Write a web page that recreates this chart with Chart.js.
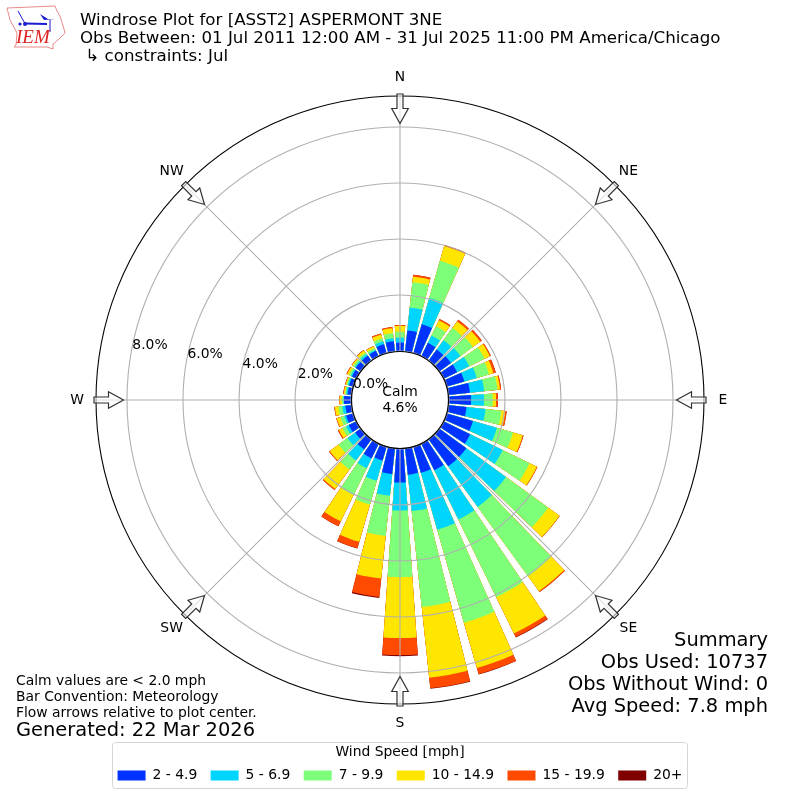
<!DOCTYPE html>
<html>
<head>
<meta charset="utf-8">
<style>html,body{margin:0;padding:0;background:#fff}canvas{display:block}</style>
<script src="https://cdn.jsdelivr.net/npm/chart.js@4"></script>
</head>
<body>
<canvas id="c" width="800" height="800"></canvas>
<script>
const directions = [0,10,20,30,40,50,60,70,80,90,100,110,120,130,140,150,160,170,180,190,200,210,220,230,240,250,260,270,280,290,300,310,320,330,340,350];
const speed2to5 = [.30,.75,1.06,.52,.48,.50,.52,.64,.76,.79,.64,.96,1.04,1.18,1.18,1.04,.96,.93,1.20,.91,.50,.57,.43,.23,.29,.25,.21,.25,.13,.14,.16,.21,.21,.21,.32,.36];
const speed5to7 = [.18,.82,.98,.29,.41,.42,.48,.46,.51,.46,.68,.89,1.29,1.75,1.79,1.96,2.11,1.31,1.00,.78,.75,.39,.49,.34,.11,.07,.11,.02,.05,.05,.05,.04,.07,.04,.11,.11];
const speed7to10 = [.21,.91,1.38,.37,.54,.55,.61,.46,.48,.31,.57,.60,1.07,1.86,3.06,3.09,3.46,3.44,2.38,1.44,.89,1.07,.40,.39,.14,.14,.14,.05,.04,.04,.07,.07,.07,.07,.11,.18];
const speed10to15 = [.21,.20,.55,.24,.29,.32,.21,.16,.09,.12,.14,.36,.29,.50,.66,1.44,1.68,2.54,2.17,1.53,1.38,1.04,.86,.39,.14,.14,.13,.09,.05,.04,.07,.05,.09,.07,.14,.18];
const speed15to20 = [.03,.07,.04,.05,.07,.07,.04,.09,.04,.07,.05,.03,.02,.01,.04,.14,.23,.38,.61,.66,.24,.20,.04,.03,.04,.02,.02,.01,.02,.02,.03,.02,.02,.01,.04,.04];
const speed20plus = [0,0,0,0,0,0,0,0,0,0,0,0,0,0,0,.02,.01,.02,.04,.04,.01,0,0,0,0,0,0,0,0,0,0,0,0,0,0,0];
const seriesValues = [speed2to5, speed5to7, speed7to10, speed10to15, speed15to20, speed20plus];
const seriesLabels = ['2 - 4.9','5 - 6.9','7 - 9.9','10 - 14.9','15 - 19.9','20+'];
const seriesColors = ['#0033ff','#00d5ff','#7dff7a','#ffe600','#ff4a00','#800000'];
const radialTicks = [0,2,4,6,8];
const compassLabels = ['N','NE','E','SE','S','SW','W','NW'];
const titleLines = ['Windrose Plot for [ASST2] ASPERMONT 3NE','Obs Between: 01 Jul 2011 12:00 AM - 31 Jul 2025 11:00 PM America/Chicago',' \u21b3 constraints: Jul'];
const summaryLines = ['Summary','Obs Used: 10737','Obs Without Wind: 0','Avg Speed: 7.8 mph'];
const noteLines = ['Calm values are < 2.0 mph','Bar Convention: Meteorology','Flow arrows relative to plot center.'];
const generatedLine = 'Generated: 22 Mar 2026';
const calmLines = ['Calm','4.6%'];

const rMin = -1.75, rMax = 9.107;
const barDeg = 8, gapDeg = 2, startDeg = -barDeg / 2;
const FONT = '"DejaVu Sans"';
Chart.defaults.font.family = FONT;

const labels = [];
directions.forEach(d => { labels.push(String(d)); labels.push(''); });
const datasets = seriesLabels.map((name, k) => {
  const data = [];
  directions.forEach((d, i) => {
    let total = 0;
    for (let j = 0; j <= k; j++) total += seriesValues[j][i];
    data.push(total);
    data.push(null);
  });
  return {
    label: name, data,
    backgroundColor: seriesColors[k],
    borderWidth: 0,
    angle: ctx => (ctx.index % 2 ? gapDeg : barDeg)
  };
});

function txt(ctx, s, x, y, size, align, color, font) {
  ctx.font = font || (size + 'px ' + FONT);
  ctx.textAlign = align || 'left';
  ctx.textBaseline = 'middle';
  ctx.fillStyle = color || '#000';
  ctx.fillText(s, x, y);
}
function polar(scale, deg, dist) {
  return scale.getPointPosition(0, dist, (deg - startDeg) * Math.PI / 180);
}

const spokes = {
  id: 'spokes',
  afterDatasetsDraw(chart) {
    const r = chart.scales.r, ctx = chart.ctx;
    ctx.save();
    ctx.strokeStyle = '#b0b0b0';
    ctx.lineWidth = 1.1;
    compassLabels.forEach((n, i) => {
      const a = polar(r, i * 45, r.getDistanceFromCenterForValue(0));
      const b = polar(r, i * 45, r.drawingArea);
      ctx.beginPath(); ctx.moveTo(a.x, a.y); ctx.lineTo(b.x, b.y); ctx.stroke();
    });
    ctx.restore();
  }
};

const decor = {
  id: 'decor',
  afterDraw(chart) {
    const r = chart.scales.r, ctx = chart.ctx;
    ctx.save();
    // calm disk
    ctx.beginPath();
    ctx.arc(r.xCenter, r.yCenter, r.getDistanceFromCenterForValue(0) - 0.5, 0, Math.PI * 2);
    ctx.fillStyle = '#fff'; ctx.fill();
    ctx.strokeStyle = '#000'; ctx.lineWidth = 1.2; ctx.stroke();

    // direction arrows and labels
    compassLabels.forEach((n, i) => {
      ctx.save();
      ctx.translate(r.xCenter, r.yCenter);
      ctx.rotate(i * Math.PI / 4);
      ctx.beginPath();
      ctx.moveTo(-3, -306); ctx.lineTo(3, -306); ctx.lineTo(3, -291.5); ctx.lineTo(8.3, -291.5);
      ctx.lineTo(0, -276.5); ctx.lineTo(-8.3, -291.5); ctx.lineTo(-3, -291.5); ctx.closePath();
      ctx.fillStyle = 'rgba(255,255,255,0.6)'; ctx.fill();
      ctx.strokeStyle = '#333'; ctx.lineWidth = 1.2; ctx.stroke();
      ctx.restore();
      const p = polar(r, i * 45, 323);
      txt(ctx, n, p.x, p.y, 13.89, 'center');
    });

    // radial tick labels
    radialTicks.forEach(v => {
      const p = polar(r, -80, r.getDistanceFromCenterForValue(v));
      txt(ctx, v.toFixed(1) + '%', p.x + 18.8, p.y - 7.5, 13.89, 'center');
    });
    txt(ctx, calmLines[0], 400, 392, 13.89, 'center');
    txt(ctx, calmLines[1], 400, 408, 13.89, 'center');

    // titles
    titleLines.forEach((s, i) => txt(ctx, s, 80, 21 + i * 17.6, 16.67));
    summaryLines.forEach((s, i) => txt(ctx, s, 768, 641 + i * 22, 19.44, 'right'));
    noteLines.forEach((s, i) => txt(ctx, s, 16, 681 + i * 16, 13.89));
    txt(ctx, generatedLine, 16, 731, 19.44);

    // legend frame
    ctx.beginPath();
    ctx.roundRect(112.5, 742.5, 575, 46, 3);
    ctx.strokeStyle = '#d5d5d5'; ctx.lineWidth = 1; ctx.stroke();

    // logo
    ctx.beginPath();
    [[7,8],[55,6],[57,11],[60,16],[64,29],[65,33],[58,40],[53,44],[53,49],[47,47],[14,47],[16,45],[17,33],[10,20]]
      .forEach((q, i) => i ? ctx.lineTo(q[0], q[1]) : ctx.moveTo(q[0], q[1]));
    ctx.closePath();
    ctx.strokeStyle = '#e88a8a'; ctx.lineWidth = 1; ctx.stroke();
    ctx.strokeStyle = '#1a1ad0'; ctx.lineWidth = 2;
    ctx.beginPath(); ctx.moveTo(25, 23.5); ctx.lineTo(47, 24); ctx.stroke();
    ctx.lineWidth = 1;
    ctx.beginPath(); ctx.moveTo(18, 11); ctx.lineTo(25, 23.5); ctx.moveTo(50, 20); ctx.lineTo(50, 32); ctx.stroke();
    ctx.fillStyle = '#1a1ad0';
    ctx.beginPath(); ctx.moveTo(40, 14); ctx.lineTo(48, 19); ctx.lineTo(55, 19); ctx.lineTo(44, 20); ctx.closePath(); ctx.fill();
    ctx.beginPath(); ctx.arc(20, 24, 1.6, 0, 7); ctx.fill();
    ctx.beginPath(); ctx.arc(25, 24, 2, 0, 7); ctx.fill();
    txt(ctx, 'IEM', 16, 38, 0, 'left', '#d22', 'italic 19px "Liberation Serif"');
    ctx.restore();
  }
};

new Chart(document.getElementById('c'), {
  type: 'polarArea',
  data: { labels, datasets },
  plugins: [spokes, decor],
  options: {
    responsive: false,
    devicePixelRatio: 1,
    animation: false,
    layout: { padding: { left: 96, right: 96, top: 54.5, bottom: 7.6 } },
    scales: {
      r: {
        min: rMin, max: rMax, startAngle: startDeg,
        afterBuildTicks: s => { s.ticks = radialTicks.concat([rMax]).map(v => ({ value: v })); },
        ticks: { display: false },
        angleLines: { display: false },
        pointLabels: { display: false },
        grid: {
          circular: true, z: 1, lineWidth: 1.1,
          color: c => (c.tick && c.tick.value === rMax ? '#000' : '#b0b0b0')
        }
      }
    },
    plugins: {
      tooltip: { enabled: false },
      legend: {
        position: 'bottom',
        title: { display: true, text: 'Wind Speed [mph]', color: '#000', padding: 0, font: { size: 13.89, lineHeight: 0.69 } },
        labels: {
          boxWidth: 28, boxHeight: 10, padding: 13.4, color: '#000',
          font: { size: 13.89, lineHeight: 0.72 },
          generateLabels: ch => ch.data.datasets.map((d, i) => ({
            text: d.label, fillStyle: d.backgroundColor, strokeStyle: d.backgroundColor,
            lineWidth: 0, hidden: false, datasetIndex: i, fontColor: '#000'
          }))
        }
      }
    }
  }
});
</script>
</body>
</html>
